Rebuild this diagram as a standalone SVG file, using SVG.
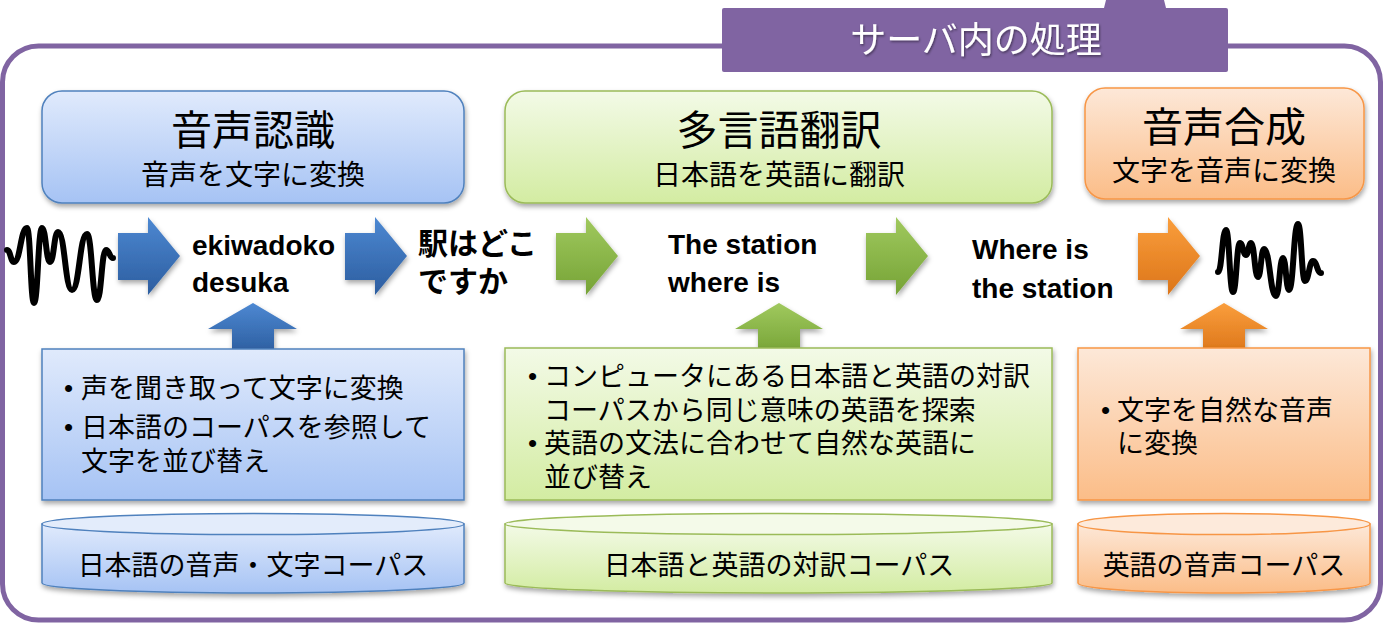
<svg xmlns="http://www.w3.org/2000/svg" width="1384" height="628" viewBox="0 0 1384 628">
<style>
  .jp { font-family: "Noto Sans CJK JP", "Noto Sans", sans-serif; fill: #000; }
  .title { font-size: 41px; text-anchor: middle; }
  .sub { font-size: 28px; text-anchor: middle; }
  .cyl { font-size: 27px; text-anchor: middle; }
  .body { font-size: 27px; }
  .bul { font-family: "Liberation Sans", Arial, sans-serif; font-size: 26px; fill: #000; }
  .en { font-family: "Liberation Sans", Arial, sans-serif; font-weight: bold; font-size: 28px; fill: #000; }
  .jpb { font-family: "Noto Sans CJK JP", sans-serif; font-weight: bold; font-size: 30px; fill: #000; }
  .wave { fill: none; stroke: #000; stroke-width: 6; stroke-linecap: round; stroke-linejoin: round; }
  .blueS { stroke: #4f81bd; stroke-width: 1.5; }
  .greenS { stroke: #9bbb59; stroke-width: 1.5; }
  .orangeS { stroke: #f79646; stroke-width: 1.5; }
</style>
<defs>
  <linearGradient id="gBlue" x1="0" y1="0" x2="0" y2="1">
    <stop offset="0" stop-color="#e0eafc"/>
    <stop offset="1" stop-color="#a6c3f4"/>
  </linearGradient>
  <linearGradient id="gGreen" x1="0" y1="0" x2="0" y2="1">
    <stop offset="0" stop-color="#f3fae7"/>
    <stop offset="1" stop-color="#d3eca2"/>
  </linearGradient>
  <linearGradient id="gOrange" x1="0" y1="0" x2="0" y2="1">
    <stop offset="0" stop-color="#fde8d8"/>
    <stop offset="1" stop-color="#fbbd88"/>
  </linearGradient>
  <linearGradient id="aBlue" x1="0" y1="0" x2="0" y2="1">
    <stop offset="0" stop-color="#4d88d2"/>
    <stop offset="1" stop-color="#2c5d9f"/>
  </linearGradient>
  <linearGradient id="aGreen" x1="0" y1="0" x2="0" y2="1">
    <stop offset="0" stop-color="#a0c95e"/>
    <stop offset="1" stop-color="#76a336"/>
  </linearGradient>
  <linearGradient id="aOrange" x1="0" y1="0" x2="0" y2="1">
    <stop offset="0" stop-color="#fa9e3c"/>
    <stop offset="1" stop-color="#dc7519"/>
  </linearGradient>
  <filter id="sh" x="-10%" y="-10%" width="120%" height="130%">
    <feDropShadow dx="1" dy="3" stdDeviation="2.5" flood-color="#000" flood-opacity="0.35"/>
  </filter>
  <filter id="tsh" x="-5%" y="-20%" width="110%" height="140%">
    <feDropShadow dx="1" dy="1.5" stdDeviation="0.8" flood-color="#000" flood-opacity="0.45"/>
  </filter>
</defs>

<g id="frame">
  <rect x="2.5" y="46" width="1378" height="574" rx="36" fill="#fff" stroke="#8064a2" stroke-width="5"/>
  <polygon points="1106,0 1164,0 1166,8 1104,8" fill="#8064a2"/>
  <rect x="722" y="8" width="506" height="64" rx="2" fill="#8064a2"/>
  <text x="976" y="53" font-family="Noto Sans CJK JP, sans-serif" font-size="36" fill="#fff" text-anchor="middle" filter="url(#tsh)">サーバ内の処理</text>
</g>

<g id="connectors">
  <polygon points="118,233 148,233 148,217 180,256 148,295 148,280 118,280" fill="url(#aBlue)" filter="url(#sh)"/>
  <polygon points="345,233 375,233 375,217 407,256 375,295 375,280 345,280" fill="url(#aBlue)" filter="url(#sh)"/>
  <polygon points="556,233 586,233 586,217 618,256 586,295 586,280 556,280" fill="url(#aGreen)" filter="url(#sh)"/>
  <polygon points="866,233 896,233 896,217 928,256 896,295 896,280 866,280" fill="url(#aGreen)" filter="url(#sh)"/>
  <polygon points="1138,233 1168,233 1168,217 1200,256 1168,295 1168,280 1138,280" fill="url(#aOrange)" filter="url(#sh)"/>
  <polygon points="253,303 297,329 274,329 274,354 232,354 232,329 208,329" fill="url(#aBlue)" filter="url(#sh)"/>
  <polygon points="779,303 823,329 800,329 800,354 758,354 758,329 735,329" fill="url(#aGreen)" filter="url(#sh)"/>
  <polygon points="1224,303 1268,329 1245,329 1245,354 1203,354 1203,329 1180,329" fill="url(#aOrange)" filter="url(#sh)"/>
</g>

<g id="wave-in">
  <path class="wave" d="M7,250 C10.5,250 10.5,262 14,262 C20.5,262 20.5,228 27,228 C30.5,228 30.5,303 34,303 C38,303 38,228 42,228 C46,228 46,262 50,262 C54,262 54,232 58,232 C65,232 65,290 72,290 C79.5,290 79.5,234 87,234 C92,234 92,300 97,300 C101.5,300 101.5,250 106,250 C109.5,250 109.5,258 113,258"/>
</g>

<g id="wave-out">
  <path class="wave" d="M1218,272 C1222,272 1222,230 1226,230 C1229.5,230 1229.5,292 1233,292 C1236.5,292 1236.5,243 1240,243 C1243,243 1243,255 1246,255 C1248.5,255 1248.5,243 1251,243 C1254.5,243 1254.5,277 1258,277 C1261,277 1261,249 1264,249 C1270,249 1270,296 1276,296 C1279.5,296 1279.5,258 1283,258 C1286,258 1286,290 1289,290 C1293.5,290 1293.5,224 1298,224 C1301.5,224 1301.5,281 1305,281 C1309,281 1309,261 1313,261 C1317,261 1317,273 1321,273"/>
</g>

<g id="asr">
  <rect x="42" y="91" width="422" height="112" rx="20" fill="url(#gBlue)" class="blueS" filter="url(#sh)"/>
  <text x="253" y="145" class="jp title">音声認識</text>
  <text x="253" y="185" class="jp sub">音声を文字に変換</text>
</g>

<g id="mt">
  <rect x="505" y="91" width="547" height="112" rx="20" fill="url(#gGreen)" class="greenS" filter="url(#sh)"/>
  <text x="779" y="145" class="jp title">多言語翻訳</text>
  <text x="779" y="185" class="jp sub">日本語を英語に翻訳</text>
</g>

<g id="tts">
  <rect x="1085" y="88" width="279" height="111" rx="20" fill="url(#gOrange)" class="orangeS" filter="url(#sh)"/>
  <text x="1224" y="142" class="jp title">音声合成</text>
  <text x="1224" y="181" class="jp sub">文字を音声に変換</text>
</g>

<g id="t-romaji">
  <text class="en"><tspan x="192" y="255">ekiwadoko</tspan><tspan x="192" y="292">desuka</tspan></text>
</g>
<g id="t-ja">
  <text class="jpb"><tspan x="418" y="254">駅はどこ</tspan><tspan x="418" y="292">ですか</tspan></text>
</g>
<g id="t-en1">
  <text class="en"><tspan x="668" y="254">The station</tspan><tspan x="668" y="292">where is</tspan></text>
</g>
<g id="t-en2">
  <text class="en"><tspan x="972" y="259">Where is</tspan><tspan x="972" y="298">the station</tspan></text>
</g>

<g id="asr-detail">
  <rect x="42" y="349" width="422" height="151" fill="url(#gBlue)" class="blueS" filter="url(#sh)"/>
  <text class="bul"><tspan x="64" y="397">•</tspan><tspan x="64" y="436">•</tspan></text>
  <text class="jp body"><tspan x="81" y="398">声を聞き取って文字に変換</tspan><tspan x="81" y="437">日本語のコーパスを参照して</tspan><tspan x="81" y="471">文字を並び替え</tspan></text>
</g>

<g id="mt-detail">
  <rect x="505" y="348" width="547" height="152" fill="url(#gGreen)" class="greenS" filter="url(#sh)"/>
  <text class="bul"><tspan x="528" y="385">•</tspan><tspan x="528" y="452">•</tspan></text>
  <text class="jp body"><tspan x="544" y="386">コンピュータにある日本語と英語の対訳</tspan><tspan x="544" y="420">コーパスから同じ意味の英語を探索</tspan><tspan x="544" y="453">英語の文法に合わせて自然な英語に</tspan><tspan x="544" y="487">並び替え</tspan></text>
</g>

<g id="tts-detail">
  <rect x="1078" y="348" width="292" height="152" fill="url(#gOrange)" class="orangeS" filter="url(#sh)"/>
  <text x="1101" y="419" class="bul">•</text>
  <text class="jp body"><tspan x="1117" y="420">文字を自然な音声</tspan><tspan x="1117" y="453">に変換</tspan></text>
</g>

<g id="corpus-ja">
  <path d="M42,524 L42,583 A211,10 0 0 0 464,583 L464,524 Z" fill="url(#gBlue)" class="blueS" filter="url(#sh)"/>
  <ellipse cx="253" cy="524" rx="211" ry="10.5" fill="#e3ecfb" class="blueS"/>
  <text x="253" y="575" class="jp cyl">日本語の音声・文字コーパス</text>
</g>

<g id="corpus-pair">
  <path d="M505,524 L505,583 A273.5,10 0 0 0 1052,583 L1052,524 Z" fill="url(#gGreen)" class="greenS" filter="url(#sh)"/>
  <ellipse cx="778.5" cy="524" rx="273.5" ry="10.5" fill="#f4fae9" class="greenS"/>
  <text x="779" y="575" class="jp cyl">日本語と英語の対訳コーパス</text>
</g>

<g id="corpus-en">
  <path d="M1078,524 L1078,583 A146,10 0 0 0 1370,583 L1370,524 Z" fill="url(#gOrange)" class="orangeS" filter="url(#sh)"/>
  <ellipse cx="1224" cy="524" rx="146" ry="10.5" fill="#fdeadb" class="orangeS"/>
  <text x="1224" y="575" class="jp cyl">英語の音声コーパス</text>
</g>
</svg>
